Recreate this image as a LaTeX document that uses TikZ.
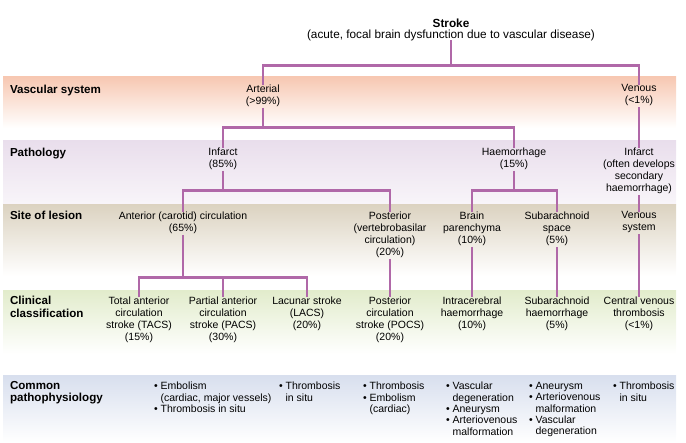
\documentclass[tikz,border=0pt]{standalone}
\usepackage{fontspec}
\setmainfont{Liberation Sans}
\definecolor{connc}{RGB}{176,104,168}
\definecolor{vascc}{RGB}{247,200,178}
\definecolor{pathc}{RGB}{233,222,236}
\definecolor{sitec}{RGB}{220,211,193}
\definecolor{clinc}{RGB}{226,236,204}
\definecolor{commc}{RGB}{216,223,238}
\newcommand{\hangsp}{\hphantom{•\ }}
\begin{document}
\begin{tikzpicture}[x=1pt,y=-1pt,
  conn/.style={draw=connc,line width=2.8pt,line join=miter},
  txt/.style={inner sep=0pt,outer sep=0pt,align=center,anchor=north,
    font=\fontsize{10.5}{12}\selectfont,execute at begin node=\strut},
  lab/.style={inner sep=0pt,outer sep=0pt,align=left,anchor=north west,
    font=\bfseries\fontsize{11.6}{12.5}\selectfont,execute at begin node=\strut},
  bul/.style={inner sep=0pt,outer sep=0pt,align=left,anchor=north west,
    font=\fontsize{10.5}{11.4}\selectfont,execute at begin node=\strut}]
\useasboundingbox (0,0) rectangle (686,443);
% bands
\shade[top color=vascc,bottom color=white] (3,77) rectangle (676,128);
\shade[top color=pathc,bottom color=pathc!30!white] (3,140.5) rectangle (676,205);
\shade[top color=sitec,bottom color=white] (3,205) rectangle (676,276);
\shade[top color=clinc,bottom color=white] (3,290.5) rectangle (676,354);
\shade[top color=commc,bottom color=white] (3,375.5) rectangle (676,442);
% row labels
\node[lab] (l1) at (10,84.5) {Vascular system};
\node[lab] (l2) at (10,147.3) {Pathology};
\node[lab] (l3) at (10,210.8) {Site of lesion};
\node[lab] (l4) at (10,296.3) {Clinical\\classification};
\node[lab] (l5) at (10,381.3) {Common\\pathophysiology};
% title
\node[inner sep=0pt,outer sep=0pt,align=center,anchor=south,
  font=\fontsize{11.8}{10.5}\selectfont] (title) at (451,40.5)
  {\textbf{Stroke}\\(acute, focal brain dysfunction due to vascular disease)};
% row 1
\node[txt] (arterial) at (263,84.6) {Arterial\\(>99\%)};
\node[txt] (venous) at (639,84.6) {Venous\\(<1\%)};
% row 2
\node[txt] (infarct) at (223,147.6) {Infarct\\(85\%)};
\node[txt] (haem) at (514,147.6) {Haemorrhage\\(15\%)};
\node[txt] (vinfarct) at (639,147.6) {Infarct\\(often develops\\secondary\\haemorrhage)};
% row 3
\node[txt] (anterior) at (183,211.6) {Anterior (carotid) circulation\\(65\%)};
\node[txt] (posterior) at (390,211.6) {Posterior\\(vertebrobasilar\\circulation)\\(20\%)};
\node[txt] (brain) at (472,211.6) {Brain\\parenchyma\\(10\%)};
\node[txt] (subspace) at (557,211.6) {Subarachnoid\\space\\(5\%)};
\node[txt] (vsys) at (639,211.6) {Venous\\system};
% row 4
\node[txt] (tacs) at (139,296.6) {Total anterior\\circulation\\stroke (TACS)\\(15\%)};
\node[txt] (pacs) at (223,296.6) {Partial anterior\\circulation\\stroke (PACS)\\(30\%)};
\node[txt] (lacs) at (307,296.6) {Lacunar stroke\\(LACS)\\(20\%)};
\node[txt] (pocs) at (390,296.6) {Posterior\\circulation\\stroke (POCS)\\(20\%)};
\node[txt] (ich) at (472,296.6) {Intracerebral\\haemorrhage\\(10\%)};
\node[txt] (sah) at (557,296.6) {Subarachnoid\\haemorrhage\\(5\%)};
\node[txt] (cvt) at (639,296.6) {Central venous\\thrombosis\\(<1\%)};
% row 5
\node[bul] (cp1) at (154,382) {•\ Embolism\\\hangsp(cardiac, major vessels)\\•\ Thrombosis in situ};
\node[bul] (cp2) at (279,382) {•\ Thrombosis\\\hangsp in situ};
\node[bul] (cp3) at (363,382) {•\ Thrombosis\\•\ Embolism\\\hangsp(cardiac)};
\node[bul] (cp4) at (446,382) {•\ Vascular\\\hangsp degeneration\\•\ Aneurysm\\•\ Arteriovenous\\\hangsp malformation};
\node[bul] (cp5) at (529,382) {•\ Aneurysm\\•\ Arteriovenous\\\hangsp malformation\\•\ Vascular\\\hangsp degeneration};
\node[bul] (cp6) at (613,382) {•\ Thrombosis\\\hangsp in situ};
% bar coordinates
\coordinate (b1) at (451,65.5);
\coordinate (b2) at (263,127.5);
\coordinate (b3) at (223,190.5);
\coordinate (b4) at (514,190.5);
\coordinate (b5) at (183,277.5);
% connectors
\draw[conn] (title.south) -- (b1);
\draw[conn] (arterial.north) |- (b1) -| (venous.north);
\draw[conn] (arterial.south) -- (b2);
\draw[conn] (infarct.north) |- (b2) -| (haem.north);
\draw[conn] (venous.south) -- (vinfarct.north);
\draw[conn] (vinfarct.south) -- (vsys.north);
\draw[conn] (vsys.south) -- (cvt.north);
\draw[conn] (infarct.south) -- (b3);
\draw[conn] (anterior.north) |- (b3) -| (posterior.north);
\draw[conn] (haem.south) -- (b4);
\draw[conn] (brain.north) |- (b4) -| (subspace.north);
\draw[conn] (anterior.south) -- (b5);
\draw[conn] (tacs.north) |- (b5) -| (lacs.north);
\draw[conn] (pacs.north) -- (pacs.north |- b5);
\draw[conn] (posterior.south) -- (pocs.north);
\draw[conn] (brain.south) -- (ich.north);
\draw[conn] (subspace.south) -- (sah.north);
\end{tikzpicture}
\end{document}
